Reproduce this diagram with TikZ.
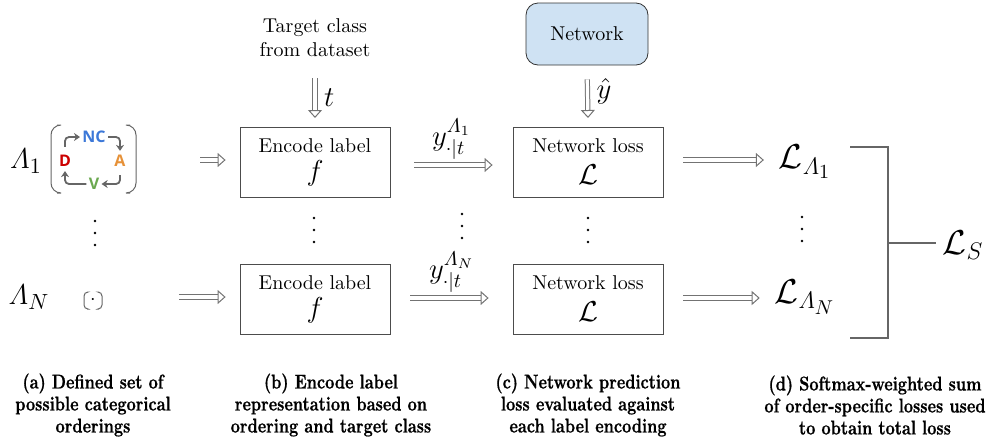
\documentclass[tikz,border=0pt]{standalone}
\usepackage{amsmath,amssymb}
\usepackage{fontspec}
\usetikzlibrary{arrows.meta}
\usetikzlibrary{positioning}
\newfontfamily\capfont{lmroman10-bold}[Extension=.otf, FakeStretch=0.8, FakeBold=0.6]
\newfontfamily\tagfont{Open Sans}
\definecolor{ncblue}{HTML}{3C78D8}
\definecolor{aorange}{HTML}{E69138}
\definecolor{vgreen}{HTML}{6AA84F}
\definecolor{dred}{HTML}{CC0000}
\definecolor{netblue}{HTML}{CFE2F3}

\begin{document}
\begin{tikzpicture}[x=0.5pt, y=-0.5pt,
		box/.style={draw=black!70, minimum width=75pt, minimum height=35pt, align=center, inner sep=2pt},
		dbl/.style={draw=black!55, double=white, double distance=1.6pt, line width=0.5pt, -{Triangle[open, length=4pt, width=7pt, line width=0.5pt]}},
		curv/.style={draw=black!60, line width=0.9pt, rounded corners=2pt, -{Stealth[length=3pt,width=4pt]}},
		paren/.style={draw=black!60, line width=0.5pt, rounded corners=5pt},
		tag/.style={font=\tagfont\bfseries\fontsize{8}{9}\selectfont, inner sep=1pt},
		captxt/.style={align=center, font=\capfont\fontsize{10}{11}\selectfont}]
	\useasboundingbox (0,0) rectangle (996,440);

	% orderings
	\node[font=\fontsize{15}{17}\selectfont] (lam1) at (26,161) {$\varLambda_1$};
	\node[font=\fontsize{15}{17}\selectfont] (lamN) at (29,297) {$\varLambda_N$};
	\node[tag, text=ncblue] (nc) at (94,137) {NC};
	\node[tag, text=aorange] (a) at (120,161) {A};
	\node[tag, text=vgreen] (v) at (94,184) {V};
	\node[tag, text=dred] (d) at (65,161) {D};
	\draw[curv, shorten <=3pt] (d.north) |- (nc.west);
	\draw[curv, shorten >=1pt] (nc.east) -| (a.north);
	\draw[curv, shorten <=3pt] (a.south) |- (v.east);
	\draw[curv, shorten >=1pt] (v.west) -| (d.south);
	\draw[paren] (57,125) -- (51,125) -- (51,193) -- (57,193);
	\draw[paren] (130,125) -- (136,125) -- (136,193) -- (130,193);
	\node[minimum width=87pt, minimum height=34pt] (ord1) at (93,160) {};
	\node (ordN) at (93,300) {$\cdot$};
	\draw[paren, rounded corners=2pt] (87,292) -- (84,292) -- (84,309) -- (87,309);
	\draw[paren, rounded corners=2pt] (99,292) -- (102,292) -- (102,309) -- (99,309);

	% encoding
	\node[align=center] (target) at (315,38) {Target class\\from dataset};
	\node[box] (enc1) at (315,162) {Encode label\\[2pt]{\Large $f$}};
	\node[box] (enc2) at (315,299) {Encode label\\[2pt]{\Large $f$}};
	\coordinate (tin) at (315,78);
	\draw[dbl] (tin) -- node[right=1pt] {\Large $t$} (enc1.north |- 0,118);
	\draw[dbl, shorten <=10pt, shorten >=7pt] (ord1.east |- 0,160) -- (enc1.west |- 0,160);
	\draw[dbl, shorten <=38pt, shorten >=7pt] (ordN.east |- 0,297) -- (enc2.west |- 0,297);

	% network
	\node[draw=black!80, fill=netblue, rounded corners=6pt, minimum width=61pt, minimum height=31pt] (net) at (587,34) {Network};
	\node[box] (loss1) at (588,162) {Network loss\\[4pt]{\Large $\mathcal{L}$}};
	\node[box] (loss2) at (588,299) {Network loss\\[4pt]{\Large $\mathcal{L}$}};
	\draw[dbl, shorten <=7pt] (net.south) -- node[right=1pt] {\Large $\hat{y}$} (loss1.north |- 0,118);
	\draw[dbl, shorten <=12pt, shorten >=10pt] (enc1.east |- 0,165) -- node[above=-1pt] {\Large $y^{\varLambda_1}_{\cdot|t}$} (loss1.west |- 0,165);
	\draw[dbl, shorten <=10pt, shorten >=12pt] (enc2.east |- 0,298) -- node[above=-1pt] {\Large $y^{\varLambda_N}_{\cdot|t}$} (loss2.west |- 0,298);

	% losses
	\node (L1) at (805,162) {\LARGE $\mathcal{L}_{\varLambda_1}$};
	\node (LN) at (805,297) {\LARGE $\mathcal{L}_{\varLambda_N}$};
	\draw[dbl, shorten <=10pt, shorten >=4pt] (loss1.east |- 0,160) -- (L1.west |- 0,160);
	\draw[dbl, shorten <=10pt, shorten >=4pt] (loss2.east |- 0,298) -- (LN.west |- 0,298);
	\node (LS) at (963,245) {\LARGE $\mathcal{L}_S$};
	\draw[draw=black!60, line width=0.6pt] (850,147) -| (888,338) -- (850,338);
	\coordinate (join) at (888,243);
	\draw[draw=black!60, line width=0.6pt] (join) -- (LS.west |- join);

	% vertical dots
	\foreach \x/\y in {95/221, 314/218, 462/214, 588/218, 802/217}
		\foreach \k in {0,1,2}
			\fill (\x,\y+12*\k) circle (0.7pt);

	% captions
	\node[captxt] (capa) at (93,405) {(a) Defined set of\\possible categorical\\orderings};
	\node[captxt] (capb) at (331,405) {(b) Encode label\\representation based on\\ordering and target class};
	\node[captxt] (capc) at (588,405) {(c) Network prediction\\loss evaluated against\\each label encoding};
	\node[captxt] (capd) at (875,405) {(d) Softmax-weighted sum\\of order-specific losses used\\to obtain total loss};
\end{tikzpicture}
\end{document}
